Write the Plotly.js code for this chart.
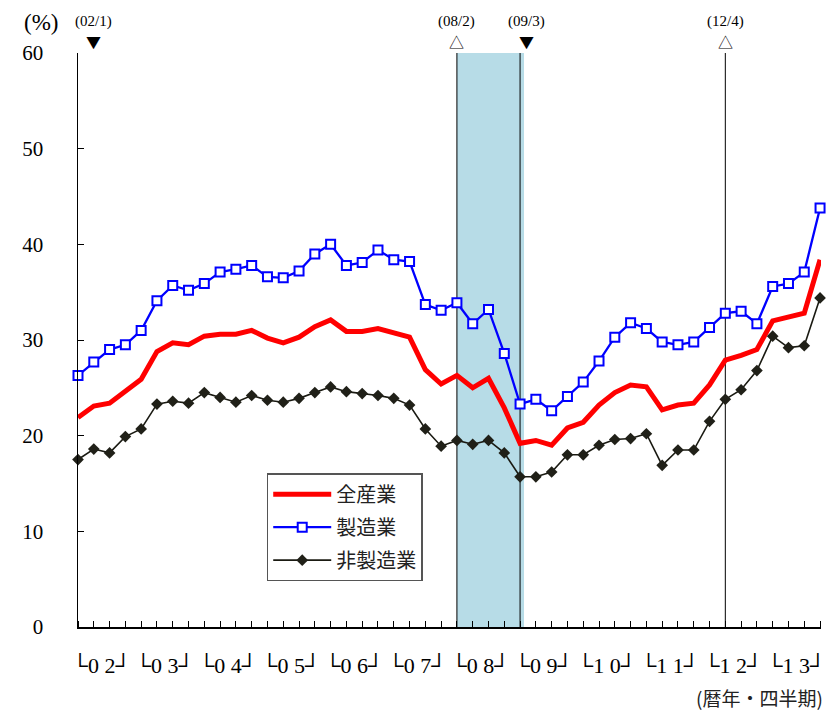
<!DOCTYPE html>
<html>
<head>
<meta charset="utf-8">
<script src="https://cdn.plot.ly/plotly-3.0.1.min.js"></script>
<style>html,body{margin:0;padding:0;background:#fff;}#chart{width:835px;height:712px;}</style>
</head>
<body>
<div id="chart"></div>
<script>
// Quarterly series, 2002 Q1 .. 2013 Q4 (%)
const allIndustries = [21.9, 23.1, 23.4, 24.7, 25.9, 28.8, 29.7, 29.5, 30.4, 30.6, 30.6, 31.0,
  30.2, 29.7, 30.3, 31.4, 32.1, 30.9, 30.9, 31.2, 30.7, 30.3, 26.9, 25.4,
  26.3, 25.0, 26.0, 22.9, 19.2, 19.5, 19.0, 20.8, 21.4, 23.2, 24.5, 25.3,
  25.1, 22.7, 23.2, 23.4, 25.3, 27.9, 28.4, 29.0, 32.0, 32.4, 32.8, 38.4];
const manufacturing = [26.3, 27.7, 29.0, 29.5, 31.0, 34.1, 35.7, 35.2, 35.9, 37.1, 37.4, 37.8,
  36.6, 36.5, 37.2, 39.0, 40.0, 37.8, 38.1, 39.4, 38.4, 38.2, 33.7, 33.1,
  33.9, 31.7, 33.2, 28.6, 23.3, 23.8, 22.6, 24.1, 25.6, 27.8, 30.3, 31.8,
  31.2, 29.8, 29.5, 29.8, 31.3, 32.8, 33.0, 31.7, 35.6, 35.9, 37.1, 43.8];
const nonManufacturing = [17.5, 18.6, 18.2, 19.9, 20.7, 23.3, 23.6, 23.4, 24.5, 24.0, 23.5, 24.2,
  23.7, 23.5, 23.9, 24.5, 25.1, 24.6, 24.4, 24.2, 23.9, 23.2, 20.7, 18.9,
  19.5, 19.1, 19.5, 18.2, 15.7, 15.7, 16.2, 18.0, 18.0, 19.0, 19.6, 19.7,
  20.2, 16.9, 18.5, 18.5, 21.5, 23.8, 24.8, 26.8, 30.4, 29.2, 29.4, 34.4];
const yearLabels = ["02", "03", "04", "05", "06", "07", "08", "09", "10", "11", "12", "13"];
const seriesNames = ["全産業", "製造業", "非製造業"];
// Business-cycle reference dates (quarter index, label, peak/trough)
const cycleIndex = [0.98, 24, 28.4, 41];
const cycleLabels = ["(02/1)", "(08/2)", "(09/3)", "(12/4)"];
const cycleSymbols = ["▼", "△", "▼", "△"];
const recessionStart = 24, recessionEnd = 28.25;
const cycleLines = [24, 28, 41];

const xs = allIndustries.map((_, i) => i);
const serif = "'Liberation Serif', 'DejaVu Serif', serif";
const jp = "'Noto Sans CJK JP', sans-serif";

const traces = [
  {x: xs, y: allIndustries, name: seriesNames[0], type: 'scatter', mode: 'lines',
   line: {color: '#ff0000', width: 5}, legendgroup: 'a'},
  {x: xs, y: manufacturing, name: seriesNames[1], type: 'scatter', mode: 'lines+markers',
   line: {color: '#0000ff', width: 2.3},
   marker: {symbol: 'square', size: 9, color: '#ffffff', line: {color: '#0000ff', width: 2}},
   legendgroup: 'b', cliponaxis: false},
  {x: xs, y: nonManufacturing, name: seriesNames[2], type: 'scatter', mode: 'lines+markers',
   line: {color: '#1a1a12', width: 1.6},
   marker: {symbol: 'diamond', size: 9, color: '#202018'},
   legendgroup: 'c', cliponaxis: false}
];

const shapes = [
  {type: 'rect', xref: 'x', yref: 'y', x0: recessionStart, x1: recessionEnd, y0: 0, y1: 60,
   fillcolor: '#b7dce7', line: {width: 0}, layer: 'below'}
].concat(cycleLines.map(v => ({type: 'line', xref: 'x', yref: 'y', x0: v, x1: v, y0: 0, y1: 60,
   line: {color: '#000', width: 1}, layer: 'below'})));

const annotations = [];
cycleIndex.forEach((v, i) => {
  annotations.push({x: v, xref: 'x', y: 1, yref: 'paper', yanchor: 'middle', yshift: 32,
    text: cycleLabels[i], showarrow: false, font: {family: serif, size: 15, color: '#000'}});
  annotations.push({x: v, xref: 'x', y: 1, yref: 'paper', yanchor: 'middle', yshift: 12,
    text: cycleSymbols[i], showarrow: false, font: {family: jp, size: 15, color: '#000'}});
});
annotations.push({x: 0, xref: 'paper', xanchor: 'center', xshift: -37, y: 1, yref: 'paper',
  yanchor: 'middle', yshift: 31,
  text: '(%)', showarrow: false, font: {family: serif, size: 23, color: '#000'}});
annotations.push({x: 1, xref: 'paper', xanchor: 'right', xshift: 4, y: 0, yref: 'paper',
  yanchor: 'middle', yshift: -70,
  text: '(暦年・四半期)', showarrow: false, font: {family: jp, size: 19, color: '#222'}});

const layout = {
  width: 835, height: 712,
  margin: {l: 78, r: 14, t: 53, b: 85},
  paper_bgcolor: '#fff', plot_bgcolor: 'rgba(0,0,0,0)',
  showlegend: true,
  legend: {x: 0.254, y: 0.268, xanchor: 'left', yanchor: 'top', bgcolor: '#fff',
    bordercolor: '#555', borderwidth: 1.5, traceorder: 'grouped', tracegroupgap: 4,
    itemwidth: 58,
    font: {family: jp, size: 20, color: '#222'}},
  xaxis: {range: [0, 47.06], showgrid: false, zeroline: false, showline: true,
    linecolor: '#000', linewidth: 1.5, ticks: '', mirror: false,
    tickmode: 'array', tickvals: yearLabels.map((_, i) => 1.5 + 4 * i),
    ticktext: yearLabels.map(s => '└' + s[0] + ' ' + s[1] + '┘'),
    tickfont: {family: serif, size: 22, color: '#000'}, ticklabelstandoff: 18,
    minor: {tickmode: 'linear', tick0: 0, dtick: 1, ticks: 'inside', ticklen: 6,
      tickwidth: 1, tickcolor: '#000', showgrid: false}},
  yaxis: {range: [0, 60], tickvals: [0, 10, 20, 30, 40, 50, 60], showgrid: false, zeroline: false,
    showline: true, linecolor: '#000', linewidth: 1.5, ticks: 'inside', ticklen: 6,
    tickwidth: 1, tickcolor: '#000',
    tickfont: {family: serif, size: 21, color: '#000'}, ticklabelstandoff: 29},
  shapes: shapes,
  annotations: annotations
};

Plotly.newPlot('chart', traces, layout, {displayModeBar: false, staticPlot: true});
</script>
</body>
</html>
